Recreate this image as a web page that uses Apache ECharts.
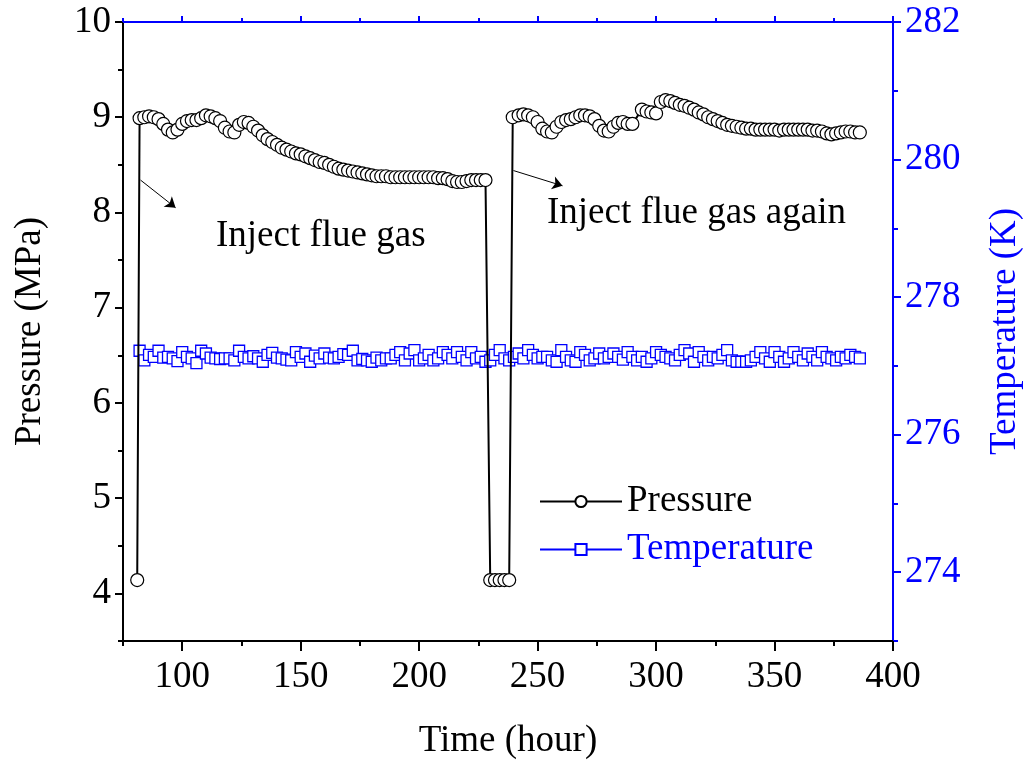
<!DOCTYPE html>
<html>
<head>
<meta charset="utf-8">
<script src="https://cdn.jsdelivr.net/npm/echarts@6/dist/echarts.min.js"></script>
<style>html,body{margin:0;padding:0;background:#fff}#c{width:1023px;height:763px}</style>
</head>
<body>
<div id="c"></div>
<script>
// ---- data ----
const xTickValues = [100,150,200,250,300,350,400];
const xMinorValues = [75,125,175,225,275,325,375];
const pTickValues = [4,5,6,7,8,9,10];
const pMinorValues = [3.5,4.5,5.5,6.5,7.5,8.5,9.5];
const tTickValues = [274,276,278,280,282];
const tMinorValues = [273,275,277,279,281];

const pHours = [
  81,
  82,84,86,88,90,92,94,96,98,100,
  102,104,106,108,110,112,114,116,118,120,
  122,124,126,128,130,132,134,136,138,140,
  142,144,146,148,150,152,154,156,158,160,
  162,164,166,168,170,172,174,176,178,180,
  182,184,186,188,190,192,194,196,198,200,
  202,204,206,208,210,212,214,216,218,220,
  222,224,226,228,
  230,232,234,236,238,
  239.5,242,244,246,248,250,252,254,256,258,
  260,262,264,266,268,270,272,274,276,278,
  280,282,284,286,288,290,294,296,298,300,
  302,304,306,308,310,312,314,316,318,320,
  322,324,326,328,330,332,334,336,338,340,
  342,344,346,348,350,352,354,356,358,360,
  362,364,366,368,370,372,374,376,378,380,
  382,384,386
];
const pValues = [
  4.14,
  8.99,9.00,9.01,9.00,8.98,8.93,8.87,8.84,8.87,8.93,
  8.96,8.97,8.97,8.99,9.02,9.01,8.99,8.96,8.89,8.85,
  8.84,8.92,8.95,8.94,8.90,8.86,8.81,8.77,8.74,8.71,
  8.68,8.66,8.64,8.62,8.61,8.59,8.57,8.55,8.53,8.52,
  8.50,8.48,8.46,8.45,8.44,8.43,8.42,8.41,8.40,8.39,
  8.38,8.38,8.38,8.37,8.37,8.37,8.37,8.37,8.37,8.37,
  8.37,8.37,8.37,8.36,8.36,8.35,8.33,8.32,8.32,8.33,
  8.34,8.34,8.34,8.34,
  4.14,4.14,4.14,4.14,4.14,
  9.00,9.02,9.03,9.02,9.00,8.95,8.88,8.85,8.84,8.90,
  8.95,8.97,8.98,9.00,9.02,9.02,9.01,8.98,8.91,8.86,
  8.85,8.90,8.94,8.95,8.93,8.93,9.08,9.06,9.05,9.04,
  9.16,9.18,9.17,9.15,9.13,9.12,9.10,9.08,9.05,9.03,
  9.00,8.98,8.96,8.94,8.92,8.91,8.90,8.89,8.88,8.88,
  8.87,8.87,8.87,8.87,8.87,8.86,8.87,8.87,8.87,8.87,
  8.87,8.87,8.86,8.86,8.85,8.83,8.82,8.83,8.84,8.85,
  8.85,8.84,8.84
];

const tHours = [
  82,84,86,88,90,92,94,96,98,100,
  102,104,106,108,110,112,114,116,118,120,
  122,124,126,128,130,132,134,136,138,140,
  142,144,146,148,150,152,154,156,158,160,
  162,164,166,168,170,172,174,176,178,180,182,
  184,186,188,190,192,194,196,198,200,202,
  204,206,208,210,212,214,216,218,220,222,
  224,226,228,230,232,234,236,238,240,242,
  244,246,248,250,252,254,256,258,260,262,
  264,266,268,270,272,274,276,278,280,282,
  284,286,
  288,290,292,294,296,298,300,302,304,306,
  308,310,312,314,316,318,320,322,324,326,
  328,330,332,334,336,338,340,342,344,346,
  348,350,352,354,356,358,360,362,364,366,
  368,370,372,374,376,378,380,382,384,386
];
const tValues = [
  277.22,277.08,277.16,277.13,277.22,277.12,277.13,277.11,277.07,277.20,
  277.13,277.11,277.04,277.22,277.18,277.12,277.11,277.10,277.11,277.11,
  277.08,277.22,277.13,277.11,277.14,277.11,277.06,277.16,277.19,277.12,
  277.11,277.09,277.08,277.20,277.13,277.18,277.06,277.15,277.11,277.18,
  277.12,277.11,277.13,277.17,277.16,277.22,277.08,277.10,277.08,277.06,277.12,
  277.08,277.11,277.11,277.16,277.20,277.08,277.18,277.23,277.08,277.11,
  277.16,277.08,277.11,277.20,277.16,277.11,277.20,277.13,277.08,277.20,
  277.11,277.13,277.06,277.08,277.16,277.23,277.11,277.08,277.13,277.18,
  277.11,277.23,277.16,277.11,277.13,277.13,277.08,277.06,277.23,277.13,
  277.08,277.06,277.20,277.16,277.08,277.11,277.18,277.11,277.13,277.18,
  277.13,277.09,
  277.20,277.13,277.08,277.13,277.06,277.11,277.20,277.16,277.13,277.11,
  277.08,277.16,277.23,277.18,277.06,277.20,277.13,277.08,277.13,277.11,
  277.16,277.23,277.08,277.06,277.06,277.06,277.08,277.13,277.20,277.11,
  277.06,277.20,277.13,277.06,277.11,277.20,277.13,277.08,277.18,277.13,
  277.08,277.20,277.13,277.11,277.08,277.13,277.11,277.16,277.13,277.11
];

// ---- chart ----
const FONT = "'Liberation Serif','Times New Roman',serif";
const BLUE = '#0000ff';
const FS = 37;

const pressureData = pHours.map((h, i) => [h, pValues[i]]);
const temperatureData = tHours.map((h, i) => [h, tValues[i]]);

function xAxisCfg(pos, color, ticks, len, withLabel, lineShow) {
  return {
    type: 'value', position: pos, min: 75, max: 400,
    axisLine: { show: lineShow, onZero: false, lineStyle: { color: color, width: 2 } },
    axisTick: { show: true, customValues: ticks, length: len, inside: false, lineStyle: { color: color, width: 2 } },
    axisLabel: withLabel ? { show: true, customValues: ticks, color: '#000', fontFamily: FONT, fontSize: FS, margin: 18 } : { show: false },
    splitLine: { show: false }
  };
}
function yAxisCfg(pos, min, max, color, ticks, len, withLabel, lineShow) {
  return {
    type: 'value', position: pos, min: min, max: max,
    axisLine: { show: lineShow, onZero: false, lineStyle: { color: color, width: 2 } },
    axisTick: { show: true, customValues: ticks, length: len, inside: false, lineStyle: { color: color, width: 2 } },
    axisLabel: withLabel ? { show: true, customValues: ticks, color: color, fontFamily: FONT, fontSize: FS, margin: 12 } : { show: false },
    splitLine: { show: false }
  };
}

const xMain = xAxisCfg('bottom', '#000', xTickValues, 10, true, true);
xMain.name = 'Time (hour)';
xMain.nameLocation = 'middle';
xMain.nameGap = 82;
xMain.nameTextStyle = { fontFamily: FONT, fontSize: FS, color: '#000' };

const yLeft = yAxisCfg('left', 3.5, 10, '#000', pTickValues, 8, true, true);
yLeft.name = 'Pressure (MPa)';
yLeft.nameLocation = 'middle';
yLeft.nameGap = 74;
yLeft.nameTextStyle = { fontFamily: FONT, fontSize: FS, color: '#000' };

const yRight = yAxisCfg('right', 273, 282, BLUE, tTickValues, 8, true, true);
yRight.name = 'Temperature (K)';
yRight.nameLocation = 'middle';
yRight.nameGap = 94;
yRight.nameTextStyle = { fontFamily: FONT, fontSize: FS, color: BLUE };

const option = {
  animation: false,
  backgroundColor: '#fff',
  grid: { left: 123, right: 130, top: 22, bottom: 122, containLabel: false, outerBoundsMode: 'none' },
  xAxis: [
    xMain,
    xAxisCfg('bottom', '#000', xMinorValues, 5, false, false),
    xAxisCfg('top', BLUE, xTickValues, 6, false, true),
    xAxisCfg('top', BLUE, xMinorValues, 4, false, false)
  ],
  yAxis: [
    yLeft,
    yAxisCfg('left', 3.5, 10, '#000', pMinorValues, 5, false, false),
    yRight,
    yAxisCfg('right', 273, 282, BLUE, tMinorValues, 5, false, false)
  ],
  legend: {
    orient: 'vertical', left: 534, top: 478, itemGap: 11,
    itemWidth: 82, itemHeight: 14,
    textStyle: { fontFamily: FONT, fontSize: FS },
    data: [
      { name: 'Pressure', textStyle: { color: '#000' } },
      { name: 'Temperature', textStyle: { color: BLUE } }
    ]
  },
  series: [
    {
      name: 'Temperature', type: 'line', xAxisIndex: 0, yAxisIndex: 2,
      data: temperatureData, symbol: 'rect', symbolSize: 11, showAllSymbol: true,
      lineStyle: { color: BLUE, width: 1.5 },
      itemStyle: { color: '#fff', borderColor: BLUE, borderWidth: 1.3 },
      z: 2
    },
    {
      name: 'Pressure', type: 'line', xAxisIndex: 0, yAxisIndex: 0,
      data: pressureData, symbol: 'circle', symbolSize: 13, showAllSymbol: true,
      lineStyle: { color: '#000', width: 2 },
      itemStyle: { color: '#fff', borderColor: '#000', borderWidth: 1.2 },
      z: 3,
      markLine: {
        silent: true, symbol: ['none', 'arrow'], symbolSize: 10,
        lineStyle: { color: '#000', width: 1, type: 'solid' },
        label: { show: false },
        data: [
          [{ coord: [82.4, 8.34] }, { coord: [97.2, 8.05] }],
          [{ coord: [239.8, 8.44] }, { coord: [260.5, 8.28] }]
        ]
      }
    }
  ],
  graphic: [
    { type: 'text', left: 216, top: 218, style: { text: 'Inject flue gas', font: FS + "px " + FONT, fill: '#000' } },
    { type: 'text', left: 547, top: 195, style: { text: 'Inject flue gas again', font: FS + "px " + FONT, fill: '#000' } }
  ]
};

const chart = echarts.init(document.getElementById('c'), null, { renderer: 'canvas' });
chart.setOption(option);
</script>
</body>
</html>
